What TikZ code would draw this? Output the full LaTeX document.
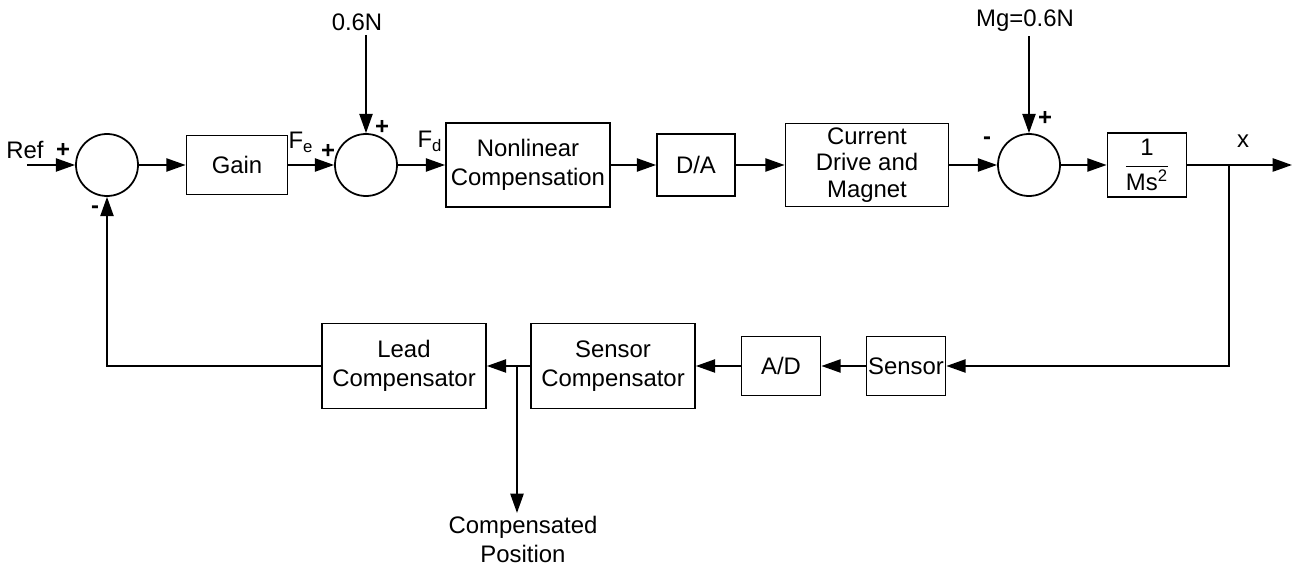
\documentclass[tikz,border=0pt]{standalone}
\usepackage{fontspec}
\setmainfont{Liberation Sans}
\usetikzlibrary{arrows.meta}

\begin{document}
\begin{tikzpicture}[>={Triangle[length=11pt,width=7.5pt]}, line width=1.1pt,
                    font=\fontsize{13.6}{16.5}\selectfont,
                    block/.style={draw, line width=1pt, rectangle, inner sep=0pt, align=center},
                    sumnode/.style={draw, line width=1pt, circle, minimum size=1.24cm, inner sep=0pt},
                    sign/.style={inner sep=0pt, font=\fontsize{13.6}{16}\selectfont\bfseries}]
                    \useasboundingbox (0,0) rectangle (25.94,11.34);

                    % Forward path
                    \coordinate (ref) at (0.54,8.04);
                    \node[sumnode] (sum1) at (2.14,8.04) {};
                    \node[block, minimum width=2.02cm, minimum height=1.18cm] (gain) at (4.74,8.04) {Gain};
                    \node[sumnode] (sum2) at (7.32,8.04) {};
                    \node[block, minimum width=3.28cm, minimum height=1.68cm] (nonlin) at (10.56,8.04) {Nonlinear\\Compensation};
                    \node[block, minimum width=1.56cm, minimum height=1.24cm] (da) at (13.92,8.04) {D/A};
                    \node[block, minimum width=3.26cm, minimum height=1.66cm, font=\fontsize{13.6}{15}\selectfont] (drive) at (17.34,8.04) {Current\\Drive and\\Magnet};
                    \node[sumnode] (sum3) at (20.58,8.04) {};
                    \node[block, minimum width=1.58cm, minimum height=1.28cm] (plant) at (22.94,8.04) {$\displaystyle\frac{\mbox{1}}{\mbox{Ms\textsuperscript{2}}}$};
                    \coordinate (tap1) at (24.58,8.04);
                    \coordinate (xout) at (25.84,8.04);

                    % Feedback path
                    \node[block, minimum width=1.58cm, minimum height=1.18cm] (sensor) at (18.12,4.02) {Sensor};
                    \node[block, minimum width=1.58cm, minimum height=1.18cm] (ad) at (15.62,4.02) {A/D};
                    \node[block, minimum width=3.28cm, minimum height=1.70cm] (senscomp) at (12.26,4.02) {Sensor\\Compensator};
                    \node[block, minimum width=3.28cm, minimum height=1.70cm] (lead) at (8.08,4.02) {Lead\\Compensator};
                    \coordinate (tap2) at (10.34,4.02);

                    % Inputs and outputs
                    \node[inner sep=2pt] (l06) at (7.14,10.90) {0.6N};
                    \node[inner sep=2pt] (lmg) at (20.50,10.92) {Mg=0.6N};
                    \node[inner sep=1pt, align=center, anchor=north] (lpos) at (10.46,1.08) {Compensated\\Position};

                    % Labels
                    \node[inner sep=0pt] (lref) at (0.50,8.34) {Ref};
                    \node[sign] (p1) at (1.26,8.34) {+};
                    \node[sign] (m1) at (1.90,7.14) {-};
                    \node[inner sep=0pt] (lfe) at (6.02,8.50) {F\textsubscript{e}};
                    \node[sign] (p2) at (6.56,8.32) {+};
                    \node[sign] (p3) at (7.64,8.80) {+};
                    \node[inner sep=0pt] (lfd) at (8.60,8.52) {F\textsubscript{d}};
                    \node[sign] (m3) at (19.74,8.52) {-};
                    \node[sign] (p4) at (20.90,8.98) {+};
                    \node[inner sep=0pt] (lx) at (24.86,8.52) {x};

                    % Connectors
                    \draw[->] (ref) -- (sum1);
                    \draw[->] (sum1) -- (gain);
                    \draw[->] (gain) -- (sum2);
                    \draw[->] (sum2) -- (nonlin);
                    \draw[->] (nonlin) -- (da);
                    \draw[->] (da) -- (drive);
                    \draw[->] (drive) -- (sum3);
                    \draw[->] (sum3) -- (plant);
                    \draw[->] (plant) -- (xout);
                    \draw[->] (l06.south -| sum2) -- (sum2);
                    \draw[->] (lmg.south -| sum3) -- (sum3);
                    \draw[->] (tap1) |- (sensor);
                    \draw[->] (sensor) -- (ad);
                    \draw[->] (ad) -- (senscomp);
                    \draw[->] (senscomp) -- (lead);
                    \draw[->] (tap2) -- (tap2 |- lpos.north);
                    \draw[->] (lead) -| (sum1);
                \end{tikzpicture}
\end{document}
